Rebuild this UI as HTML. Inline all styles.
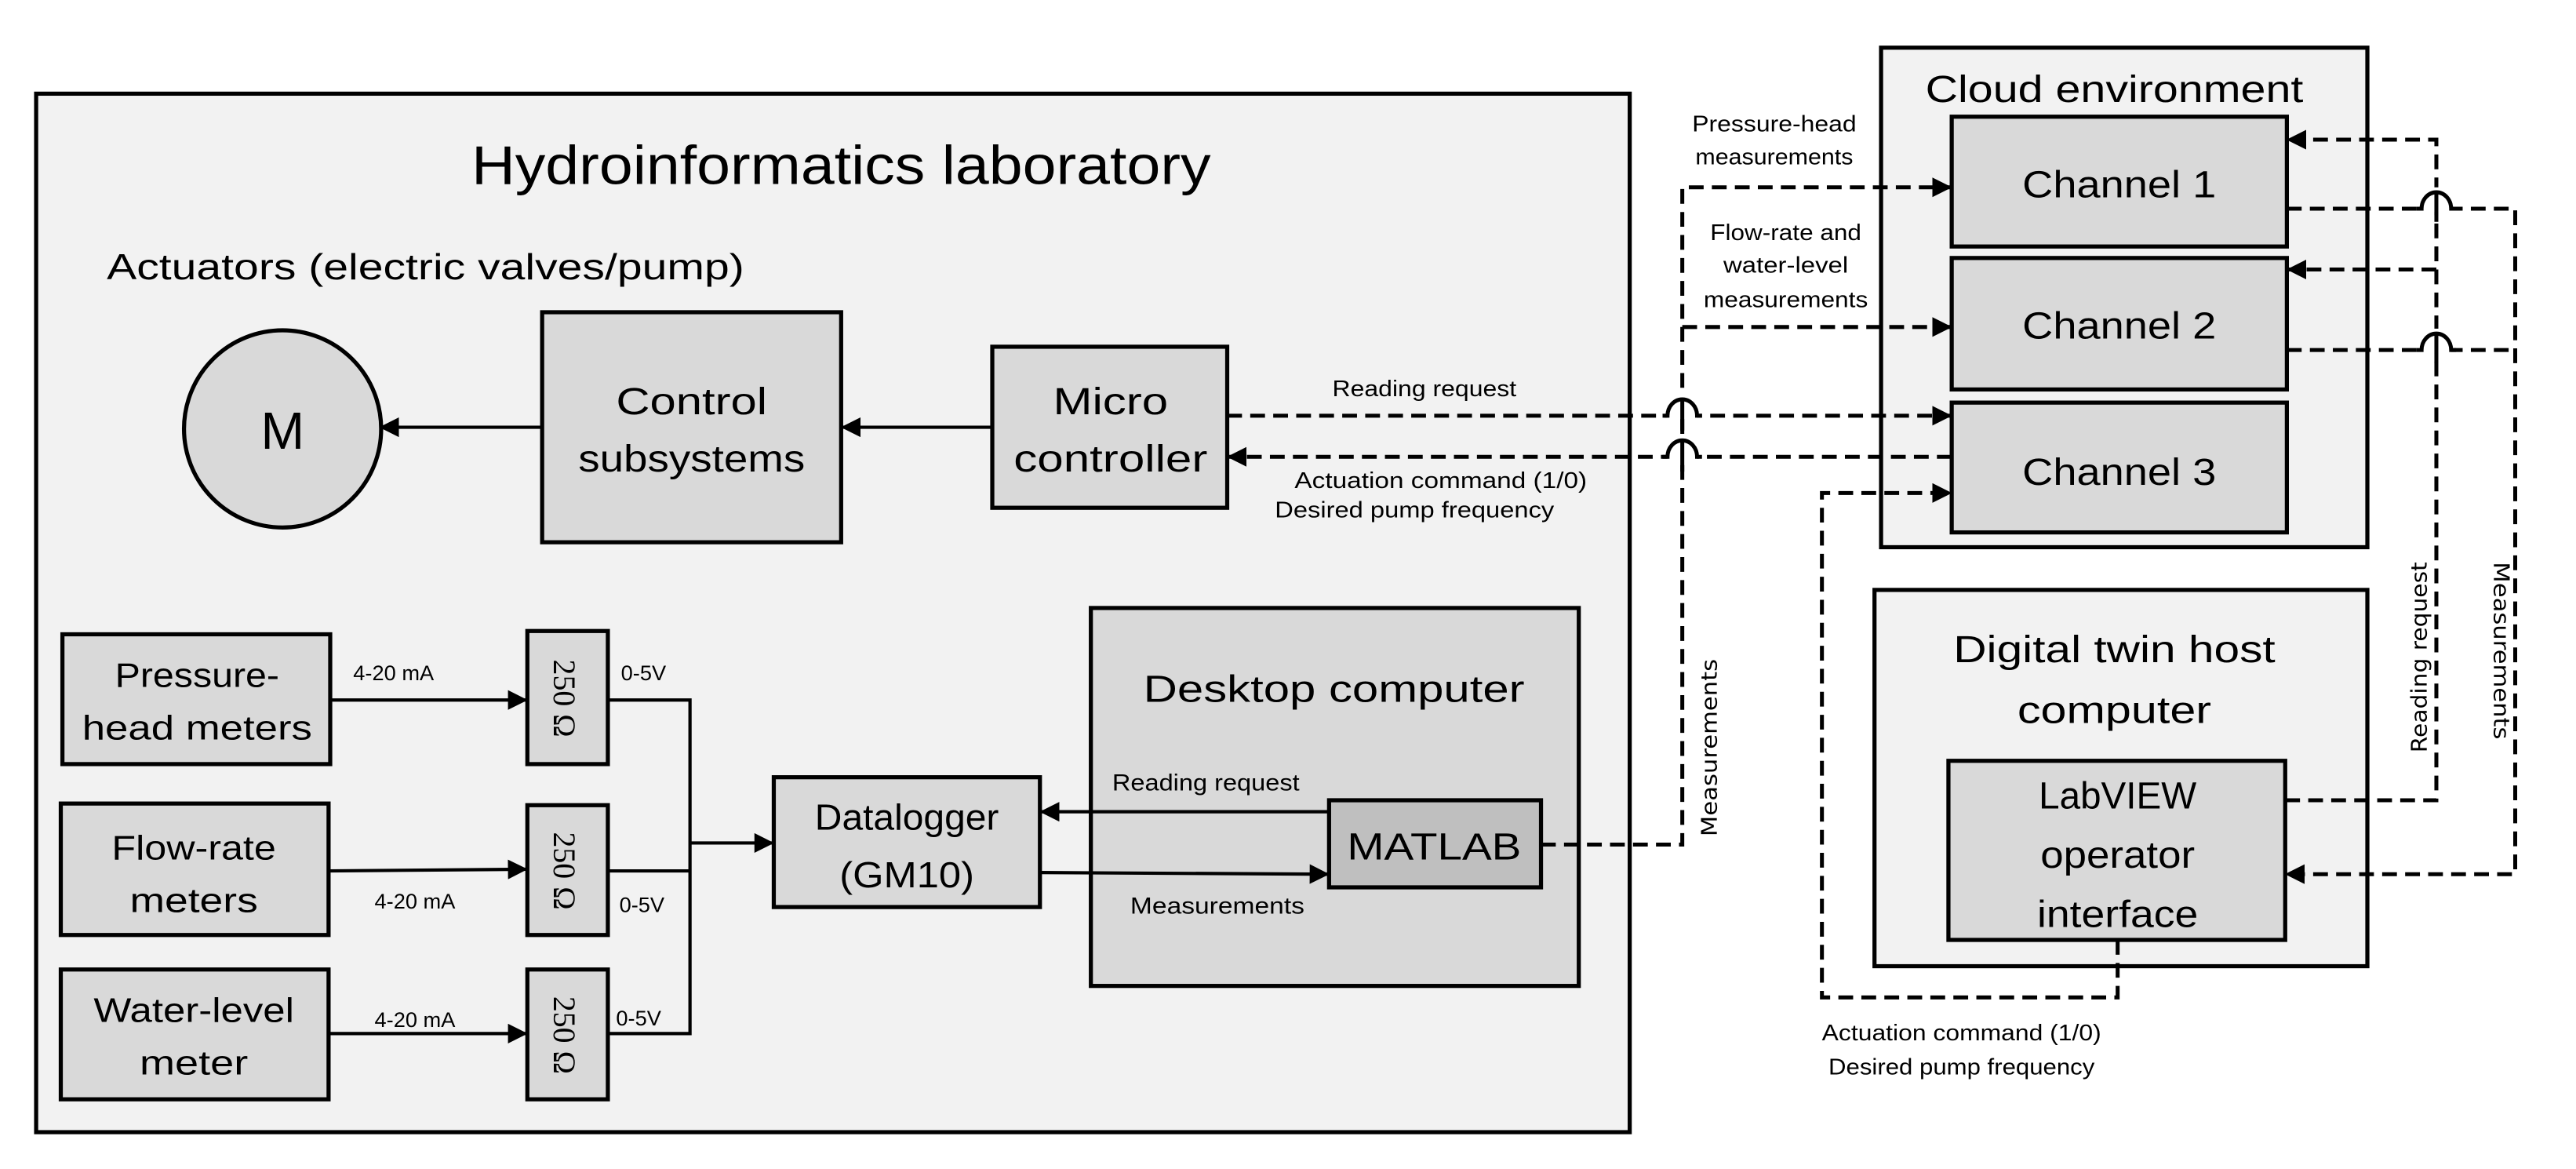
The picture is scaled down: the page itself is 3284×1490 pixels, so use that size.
<!DOCTYPE html>
<html><head><meta charset="utf-8"><style>
html,body{margin:0;padding:0;background:#fff;}
svg{display:block;}
text{font-family:"Liberation Sans",sans-serif;fill:#000;}
.c{text-anchor:middle;}
.d{fill:none;stroke:#000;stroke-width:2.4;stroke-dasharray:9 5;}
.s{fill:none;stroke:#000;stroke-width:2;}
.h{fill:#fff;stroke:#000;stroke-width:2.4;}
</style></head><body>
<svg width="3284" height="1490" viewBox="0 0 1568 711.4" xmlns="http://www.w3.org/2000/svg">
<defs>
<marker id="a" viewBox="0 0 10 10" refX="9" refY="5" markerWidth="5" markerHeight="5" orient="auto" markerUnits="userSpaceOnUse"><path d="M0,0L10,5L0,10z"/></marker>
<marker id="b" viewBox="0 0 10 10" refX="9" refY="5" markerWidth="12" markerHeight="12" orient="auto" markerUnits="userSpaceOnUse"><path d="M0,0L10,5L0,10z"/></marker>
</defs>
<!-- Lab -->
<rect x="22" y="57" width="970" height="632" fill="#f2f2f2" stroke="#000" stroke-width="2.5"/>
<text x="512" y="112" class="c" font-size="33" textLength="450" lengthAdjust="spacingAndGlyphs">Hydroinformatics laboratory</text>
<text x="65" y="170" font-size="22" textLength="388" lengthAdjust="spacingAndGlyphs">Actuators (electric valves/pump)</text>
<circle cx="172" cy="261" r="60" fill="#d9d9d9" stroke="#000" stroke-width="2.5"/>
<text x="172" y="273" class="c" font-size="32">M</text>
<rect x="330" y="190" width="182" height="140" fill="#d9d9d9" stroke="#000" stroke-width="2.5"/>
<text x="421" y="252" class="c" font-size="23" textLength="92" lengthAdjust="spacingAndGlyphs">Control</text>
<text x="421" y="287" class="c" font-size="23" textLength="138" lengthAdjust="spacingAndGlyphs">subsystems</text>
<rect x="604" y="211" width="143" height="98" fill="#d9d9d9" stroke="#000" stroke-width="2.5"/>
<text x="676" y="252" class="c" font-size="23" textLength="70" lengthAdjust="spacingAndGlyphs">Micro</text>
<text x="676" y="287" class="c" font-size="23" textLength="118" lengthAdjust="spacingAndGlyphs">controller</text>
<path d="M330,260H232" class="s" stroke-width="2.5" marker-end="url(#b)"/>
<path d="M603,260H513" class="s" stroke-width="2.5" marker-end="url(#b)"/>

<!-- meters -->
<g fill="#d9d9d9" stroke="#000" stroke-width="2.5">
<rect x="38" y="386" width="163" height="79"/>
<rect x="37" y="489" width="163" height="80"/>
<rect x="37" y="590" width="163" height="79"/>
<rect x="321" y="384" width="49" height="81"/>
<rect x="321" y="490" width="49" height="79"/>
<rect x="321" y="590" width="49" height="79"/>
</g>
<g font-size="21" class="c">
<text x="120" y="418" textLength="100" lengthAdjust="spacingAndGlyphs">Pressure-</text>
<text x="120" y="450" textLength="140" lengthAdjust="spacingAndGlyphs">head meters</text>
<text x="118" y="523" textLength="100" lengthAdjust="spacingAndGlyphs">Flow-rate</text>
<text x="118" y="555" textLength="78" lengthAdjust="spacingAndGlyphs">meters</text>
<text x="118" y="622" textLength="122" lengthAdjust="spacingAndGlyphs">Water-level</text>
<text x="118" y="654" textLength="66" lengthAdjust="spacingAndGlyphs">meter</text>
</g>
<g font-size="19">
<text transform="translate(337,425) rotate(90)" class="c" style="font-family:'Liberation Serif',serif">250 Ω</text>
<text transform="translate(337,530) rotate(90)" class="c" style="font-family:'Liberation Serif',serif">250 Ω</text>
<text transform="translate(337,630) rotate(90)" class="c" style="font-family:'Liberation Serif',serif">250 Ω</text>
</g>
<g font-size="13">
<text x="215" y="414">4-20 mA</text>
<text x="228" y="553">4-20 mA</text>
<text x="228" y="625">4-20 mA</text>
<text x="378" y="414">0-5V</text>
<text x="377" y="555">0-5V</text>
<text x="375" y="624">0-5V</text>
</g>
<path d="M201,426H320" class="s" stroke-width="1.8" marker-end="url(#b)"/>
<path d="M200,530L320,529" class="s" stroke-width="1.8" marker-end="url(#b)"/>
<path d="M200,629H320" class="s" stroke-width="1.8" marker-end="url(#b)"/>
<path d="M370,426H420V629H370M370,530H420" class="s" stroke-width="2.5"/>
<path d="M420,513H470" class="s" stroke-width="3" marker-end="url(#b)"/>
<rect x="471" y="473" width="162" height="79" fill="#d9d9d9" stroke="#000" stroke-width="2.5"/>
<text x="552" y="505" class="c" font-size="22" textLength="112" lengthAdjust="spacingAndGlyphs">Datalogger</text>
<text x="552" y="540" class="c" font-size="22" textLength="82" lengthAdjust="spacingAndGlyphs">(GM10)</text>
<rect x="664" y="370" width="297" height="230" fill="#d9d9d9" stroke="#000" stroke-width="2.5"/>
<text x="812" y="427" class="c" font-size="23" textLength="232" lengthAdjust="spacingAndGlyphs">Desktop computer</text>
<rect x="809" y="487" width="129" height="53" fill="#bfbfbf" stroke="#000" stroke-width="2.5"/>
<text x="873" y="523" class="c" font-size="23" textLength="106" lengthAdjust="spacingAndGlyphs">MATLAB</text>
<path d="M809,494H634" class="s" stroke-width="2.5" marker-end="url(#b)"/>
<path d="M633,531L808,532" class="s" stroke-width="2.5" marker-end="url(#b)"/>
<text x="677" y="481" font-size="14" textLength="114" lengthAdjust="spacingAndGlyphs">Reading request</text>
<text x="688" y="556" font-size="14" textLength="106" lengthAdjust="spacingAndGlyphs">Measurements</text>

<!-- Cloud -->
<rect x="1145" y="29" width="296" height="304" fill="#f2f2f2" stroke="#000" stroke-width="2.5"/>
<text x="1287" y="62" class="c" font-size="23" textLength="230" lengthAdjust="spacingAndGlyphs">Cloud environment</text>
<g fill="#d9d9d9" stroke="#000" stroke-width="2.5">
<rect x="1188" y="71" width="204" height="79"/>
<rect x="1188" y="157" width="204" height="80"/>
<rect x="1188" y="245" width="204" height="79"/>
</g>
<g font-size="23" class="c">
<text x="1290" y="120" textLength="118" lengthAdjust="spacingAndGlyphs">Channel 1</text>
<text x="1290" y="206" textLength="118" lengthAdjust="spacingAndGlyphs">Channel 2</text>
<text x="1290" y="295" textLength="118" lengthAdjust="spacingAndGlyphs">Channel 3</text>
</g>
<!-- DT host -->
<rect x="1141" y="359" width="300" height="229" fill="#f2f2f2" stroke="#000" stroke-width="2.5"/>
<text x="1287" y="403" class="c" font-size="23" textLength="196" lengthAdjust="spacingAndGlyphs">Digital twin host</text>
<text x="1287" y="440" class="c" font-size="23" textLength="118" lengthAdjust="spacingAndGlyphs">computer</text>
<rect x="1186" y="463" width="205" height="109" fill="#d9d9d9" stroke="#000" stroke-width="2.5"/>
<g font-size="23" class="c">
<text x="1289" y="492" textLength="96" lengthAdjust="spacingAndGlyphs">LabVIEW</text>
<text x="1289" y="528" textLength="94" lengthAdjust="spacingAndGlyphs">operator</text>
<text x="1289" y="564" textLength="98" lengthAdjust="spacingAndGlyphs">interface</text>
</g>

<!-- dashed connectors -->
<path d="M938,514H1024V114H1187" class="d" marker-end="url(#b)"/>
<path d="M1024,199H1187" class="d" marker-end="url(#b)"/>
<path d="M747,253H1187" class="d" marker-end="url(#b)"/>
<path d="M1188,278H748" class="d" marker-end="url(#b)"/>
<path d="M1289,572V607H1109V300H1187" class="d" marker-end="url(#b)"/>
<path d="M1391,487H1483V85H1393" class="d" marker-end="url(#b)"/>
<path d="M1483,164H1393" class="d" marker-end="url(#b)"/>
<path d="M1392,127H1531V532H1392" class="d" marker-end="url(#b)"/>
<path d="M1392,213H1531" class="d"/>
<!-- hops -->
<g>
<rect x="1015" y="240" width="18" height="15" fill="#fff"/>
<rect x="1015" y="265" width="18" height="15" fill="#fff"/>
<rect x="1474" y="114" width="18" height="15" fill="#fff"/>
<rect x="1474" y="200" width="18" height="15" fill="#fff"/>
<path d="M1012,253H1015A9,10 0 0 1 1033,253H1036M1012,278H1015A9,10 0 0 1 1033,278H1036M1471,127H1474A9,10 0 0 1 1492,127H1495M1471,213H1474A9,10 0 0 1 1492,213H1495" fill="none" stroke="#000" stroke-width="2.4"/>
<path d="M1024,243V262M1024,268V287M1483,117V135M1483,203V221" fill="none" stroke="#000" stroke-width="2.4"/>
</g>

<g font-size="13.5" class="c">
<text x="1080" y="80" textLength="100" lengthAdjust="spacingAndGlyphs">Pressure-head</text>
<text x="1080" y="100" textLength="96" lengthAdjust="spacingAndGlyphs">measurements</text>
<text x="1087" y="146" textLength="92" lengthAdjust="spacingAndGlyphs">Flow-rate and</text>
<text x="1087" y="166" textLength="76" lengthAdjust="spacingAndGlyphs">water-level</text>
<text x="1087" y="187" textLength="100" lengthAdjust="spacingAndGlyphs">measurements</text>
<text x="867" y="241" textLength="112" lengthAdjust="spacingAndGlyphs">Reading request</text>
<text x="877" y="297" textLength="178" lengthAdjust="spacingAndGlyphs">Actuation command (1/0)</text>
<text x="861" y="315" textLength="170" lengthAdjust="spacingAndGlyphs">Desired pump frequency</text>
<text x="1194" y="633" textLength="170" lengthAdjust="spacingAndGlyphs">Actuation command (1/0)</text>
<text x="1194" y="654" textLength="162" lengthAdjust="spacingAndGlyphs">Desired pump frequency</text>
</g>
<g font-size="13" class="c">
<text transform="translate(1045,455) rotate(-90)" style="font-family:'DejaVu Sans',sans-serif" textLength="108" lengthAdjust="spacingAndGlyphs">Measurements</text>
<text transform="translate(1477,400) rotate(-90)" style="font-family:'DejaVu Sans',sans-serif" textLength="116" lengthAdjust="spacingAndGlyphs">Reading request</text>
<text transform="translate(1518,396) rotate(90)" style="font-family:'DejaVu Sans',sans-serif" textLength="108" lengthAdjust="spacingAndGlyphs">Measurements</text>
</g>
</svg>
</body></html>
